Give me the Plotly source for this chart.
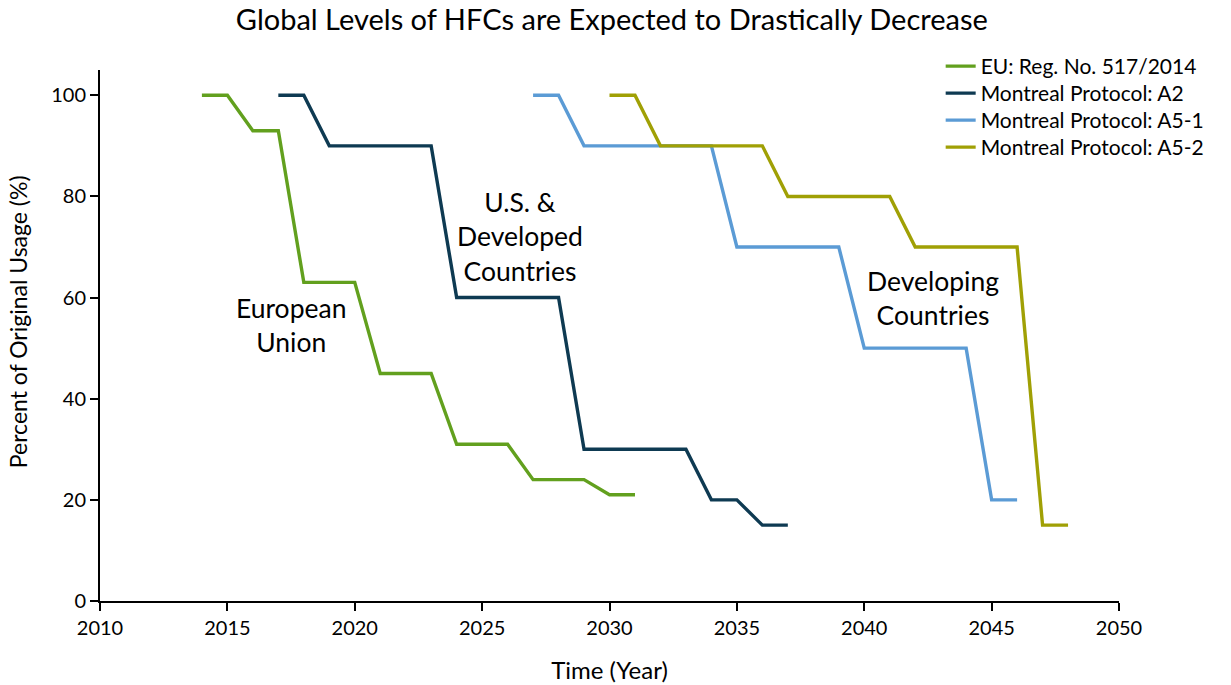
import plotly.graph_objects as go

eu_years = list(range(2014, 2032))
eu_vals = [100, 100, 93, 93, 63, 63, 63, 45, 45, 45, 31, 31, 31, 24, 24, 24, 21, 21]

a2_years = list(range(2017, 2038))
a2_vals = [100, 100, 90, 90, 90, 90, 90, 60, 60, 60, 60, 60, 30, 30, 30, 30, 30, 20, 20, 15, 15]

a51_years = list(range(2027, 2047))
a51_vals = [100, 100, 90, 90, 90, 90, 90, 90, 70, 70, 70, 70, 70, 50, 50, 50, 50, 50, 20, 20]

a52_years = list(range(2030, 2049))
a52_vals = [100, 100, 90, 90, 90, 90, 90, 80, 80, 80, 80, 80, 70, 70, 70, 70, 70, 15, 15]

names = ["EU: Reg. No. 517/2014", "Montreal Protocol: A2",
         "Montreal Protocol: A5-1", "Montreal Protocol: A5-2"]
colors = ["#62A01E", "#0E3A52", "#5B9BD5", "#A0A005"]

FONT = "Lato"

legend_ids = ["legend", "legend2", "legend3", "legend4"]
legend_y = [1.0452, 0.9944, 0.9435, 0.8927]

fig = go.Figure()
for xs, ys, nm, c, lg in zip([eu_years, a2_years, a51_years, a52_years],
                             [eu_vals, a2_vals, a51_vals, a52_vals], names, colors, legend_ids):
    fig.add_trace(go.Scatter(x=xs, y=ys, mode="lines", name=nm, legend=lg,
                             showlegend=True, line=dict(color=c, width=3.4)))

annots = [
    (2017.5, 54.5, "European<br>Union"),
    (2026.5, 72, "U.S. &<br>Developed<br>Countries"),
    (2042.7, 60, "Developing<br>Countries"),
]
for x, y, t in annots:
    fig.add_annotation(x=x, y=y, text=t, showarrow=False,
                       font=dict(family=FONT, size=26.5, color="#000"),
                       xref="x", yref="y")

# y-axis title (placed as annotation to match offset centre)
fig.add_annotation(x=-0.0805, y=0.527, xref="paper", yref="paper",
                   text="Percent of Original Usage (%)", textangle=-90,
                   showarrow=False, xanchor="center", yanchor="middle",
                   font=dict(family=FONT, size=23, color="#000"))

legend_style = dict(x=0.825, xanchor="left", yanchor="top",
                    font=dict(family=FONT, size=21, color="#000"),
                    bgcolor="rgba(0,0,0,0)")

fig.update_layout(
    width=1231, height=685,
    showlegend=True,
    margin=dict(l=100, r=112, t=70, b=84, autoexpand=False),
    paper_bgcolor="white", plot_bgcolor="white",
    font=dict(family=FONT, color="#000"),
    title=dict(text="Global Levels of HFCs are Expected to Drastically Decrease",
               x=0.497, xanchor="center", y=0.971, yanchor="middle",
               font=dict(family=FONT, size=29, color="#000")),
    xaxis=dict(range=[2010, 2050], tickvals=[2010, 2015, 2020, 2025, 2030, 2035, 2040, 2045, 2050],
               showline=True, linecolor="#000", linewidth=2, ticks="outside",
               ticklen=8, tickwidth=2, tickcolor="#000", showgrid=False, zeroline=False,
               tickfont=dict(family=FONT, size=20, color="#000"),
               title=dict(text="Time (Year)", font=dict(family=FONT, size=24, color="#000"),
                          standoff=24)),
    yaxis=dict(range=[0, 105], tickvals=[0, 20, 40, 60, 80, 100],
               showline=True, linecolor="#000", linewidth=2, ticks="outside",
               ticklen=8, tickwidth=2, tickcolor="#000", showgrid=False, zeroline=False,
               tickfont=dict(family=FONT, size=20, color="#000")),
)
for lg, ly in zip(legend_ids, legend_y):
    fig.update_layout({lg: dict(legend_style, y=ly)})

fig.write_html("out.html")
